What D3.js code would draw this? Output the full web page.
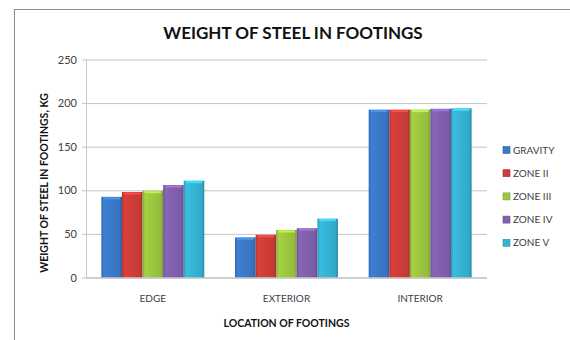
<!DOCTYPE html>
<html>
<head>
<meta charset="utf-8">
<script src="https://cdn.jsdelivr.net/npm/d3@7"></script>
<style>
  body { margin: 0; background: #fff; }
  svg { display: block; font-family: Lato, "Open Sans", sans-serif; }
</style>
</head>
<body>
<svg id="chart" width="570" height="340"></svg>
<script>
// data
var categories = ["EDGE", "EXTERIOR", "INTERIOR"];
var seriesNames = ["GRAVITY", "ZONE II", "ZONE III", "ZONE IV", "ZONE V"];
var gravity = [92.5, 46, 192.5];
var zone2 = [98, 49, 192.5];
var zone3 = [99.5, 54.5, 192.5];
var zone4 = [106, 56.5, 193.5];
var zone5 = [111, 67.5, 194];
var yTicks = [0, 50, 100, 150, 200, 250];

var seriesVals = [gravity, zone2, zone3, zone4, zone5];
var colors = ["#3a78c9", "#cf3d39", "#9cc63f", "#8160ae", "#35b3d4"];

var svg = d3.select("#chart");
var padL = 86, padR = 487, padT = 59.5, padB = 277.5;

// outer frame (cut by the window at right and bottom)
svg.append("rect")
    .attr("x", 14.5).attr("y", 9.5)
    .attr("width", 600).attr("height", 400)
    .attr("fill", "#fff")
    .attr("stroke", "#8c8c8c");

// gradients for the bevelled bars
var defs = svg.append("defs");
colors.forEach(function (c, i) {
    var g = defs.append("linearGradient")
        .attr("id", "grad" + i)
        .attr("x1", "0%").attr("x2", "100%").attr("y1", "0%").attr("y2", "0%");
    var base = d3.color(c);
    g.append("stop").attr("offset", "0%").attr("stop-color", base.darker(0.5));
    g.append("stop").attr("offset", "12%").attr("stop-color", base.brighter(0.15));
    g.append("stop").attr("offset", "50%").attr("stop-color", base);
    g.append("stop").attr("offset", "88%").attr("stop-color", base.darker(0.15));
    g.append("stop").attr("offset", "100%").attr("stop-color", base.darker(0.7));
});

var x0 = d3.scaleBand()
    .domain(categories)
    .range([padL, padR])
    .paddingInner(0.23)
    .paddingOuter(0.115);

var x1 = d3.scaleBand()
    .domain(d3.range(seriesNames.length))
    .range([0, x0.bandwidth()]);

var y = d3.scaleLinear()
    .domain([0, 250])
    .range([padB, padT]);

// gridlines + y axis
var yAxis = svg.append("g")
    .attr("transform", "translate(" + padL + ",0)")
    .call(d3.axisLeft(y).tickValues(yTicks).tickSize(-(padR - padL)).tickPadding(9));
yAxis.select(".domain").remove();
yAxis.selectAll(".tick line")
    .attr("stroke", "#c4c4c4")
    .attr("x1", -4);
yAxis.selectAll(".tick text")
    .attr("fill", "#404040")
    .style("font-size", "11px")
    .style("font-family", "Lato, sans-serif");

svg.append("line")
    .attr("x1", padL + 0.5).attr("x2", padL + 0.5)
    .attr("y1", padT).attr("y2", padB)
    .attr("stroke", "#c8c8c8");

// bars
var groups = svg.append("g").selectAll("g")
    .data(categories)
    .enter().append("g")
    .attr("transform", function (d) { return "translate(" + x0(d) + ",0)"; });

groups.selectAll("rect")
    .data(function (d, ci) {
        return seriesVals.map(function (s, si) { return {k: si, v: s[ci]}; });
    })
    .enter().append("rect")
    .attr("x", function (d) { return x1(d.k); })
    .attr("y", function (d) { return y(d.v); })
    .attr("width", x1.bandwidth())
    .attr("height", function (d) { return padB - y(d.v); })
    .attr("fill", function (d) { return "url(#grad" + d.k + ")"; });

// little top highlight on each bar
groups.selectAll("line.hl")
    .data(function (d, ci) {
        return seriesVals.map(function (s, si) { return {k: si, v: s[ci]}; });
    })
    .enter().append("line")
    .attr("class", "hl")
    .attr("x1", function (d) { return x1(d.k) + 2; })
    .attr("x2", function (d) { return x1(d.k) + x1.bandwidth() - 2; })
    .attr("y1", function (d) { return y(d.v) + 1.5; })
    .attr("y2", function (d) { return y(d.v) + 1.5; })
    .attr("stroke", function (d) { return d3.color(colors[d.k]).brighter(0.6); })
    .attr("stroke-width", 2);

// x axis labels
svg.append("line")
    .attr("x1", padL).attr("x2", padR)
    .attr("y1", padB + 0.5).attr("y2", padB + 0.5)
    .attr("stroke", "#bdbdbd");

svg.append("g").selectAll("text")
    .data(categories)
    .enter().append("text")
    .attr("x", function (d) { return x0(d) + x0.bandwidth() / 2; })
    .attr("y", 302)
    .attr("text-anchor", "middle")
    .attr("fill", "#404040")
    .style("font-size", "10px")
    .text(function (d) { return d; });

// titles
svg.append("text")
    .attr("x", 293).attr("y", 39)
    .attr("text-anchor", "middle")
    .attr("fill", "#111")
    .style("font-size", "17px")
    .style("font-weight", "bold")
    .text("WEIGHT OF STEEL IN FOOTINGS");

svg.append("text")
    .attr("x", (padL + padR) / 2).attr("y", 327)
    .attr("text-anchor", "middle")
    .attr("fill", "#111")
    .style("font-size", "10.5px")
    .style("font-weight", "bold")
    .text("LOCATION OF FOOTINGS");

svg.append("text")
    .attr("transform", "translate(48,183) rotate(-90)")
    .attr("text-anchor", "middle")
    .attr("fill", "#111")
    .style("font-size", "10.5px")
    .style("font-weight", "bold")
    .text("WEIGHT OF STEEL IN FOOTINGS, KG");

// legend
var legend = svg.append("g").selectAll("g")
    .data(seriesNames)
    .enter().append("g")
    .attr("transform", function (d, i) { return "translate(503," + (150 + i * 23.2) + ")"; });

legend.append("rect")
    .attr("x", 0).attr("y", -3.5)
    .attr("width", 7).attr("height", 7)
    .attr("fill", function (d, i) { return colors[i]; })
    .attr("stroke", function (d, i) { return d3.color(colors[i]).darker(0.6); })
    .attr("stroke-width", 0.6);

legend.append("text")
    .attr("x", 10).attr("y", 0)
    .attr("dy", "0.35em")
    .attr("fill", "#404040")
    .style("font-size", "10px")
    .text(function (d) { return d; });
</script>
</body>
</html>
